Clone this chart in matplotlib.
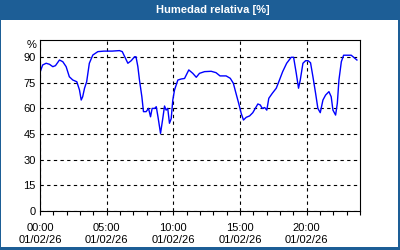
import numpy as np
import matplotlib
matplotlib.use("Agg")
import matplotlib.pyplot as plt
from matplotlib.patches import Rectangle

# hora del día (h) y humedad relativa (%)
horas = [0.0, 0.2, 0.46, 0.71, 0.96, 1.16, 1.46, 1.71, 1.96, 2.2, 2.46, 2.76, 2.96,
         3.09, 3.2, 3.34, 3.5, 3.7, 3.96, 4.34, 4.8, 5.4, 5.96, 6.17, 6.41, 6.59,
         6.84, 7.09, 7.2, 7.34, 7.46, 7.64, 7.76, 7.96, 8.14, 8.29, 8.41, 8.6, 8.72,
         8.85, 9.04, 9.21, 9.34, 9.46, 9.58, 9.71, 9.84, 9.96, 10.09, 10.34, 10.59,
         10.84, 11.16, 11.46, 11.72, 11.96, 12.34, 12.84, 13.2, 13.5, 13.96, 14.27,
         14.5, 14.7, 14.9, 15.09, 15.26, 15.47, 15.72, 15.96, 16.34, 16.52, 16.67,
         16.85, 17.01, 17.16, 17.42, 17.72, 17.96, 18.2, 18.5, 18.84, 19.02, 19.22,
         19.39, 19.52, 19.72, 19.92, 20.1, 20.29, 20.47, 20.67, 20.84, 21.02, 21.22,
         21.42, 21.67, 21.84, 21.97, 22.17, 22.3, 22.42, 22.6, 22.77, 23.34, 23.77]
humedad = [81.1, 85.4, 86.4, 85.8, 84.4, 85.0, 88.3, 87.3, 84.4, 78.5, 76.6, 75.6, 70.8,
           64.9, 66.8, 71.8, 75.6, 86.4, 91.2, 93.2, 93.5, 93.5, 93.8, 93.2, 89.3, 86.4,
           87.9, 90.2, 90.2, 84.4, 76.6, 66.8, 58.1, 58.1, 60.0, 55.1, 60.0, 60.0, 61.0,
           55.0, 45.4, 54.2, 61.4, 59.0, 60.0, 51.3, 54.0, 64.9, 70.8, 76.6, 77.2,
           77.5, 82.5, 80.5, 78.2, 80.5, 81.5, 81.7, 80.9, 79.0, 79.0, 77.6,
           74.7, 68.8, 63.0, 57.1, 53.2, 54.8, 55.6, 57.5, 62.6, 62.0, 60.0,
           60.5, 59.0, 65.9, 68.8, 71.8, 76.6, 81.5, 86.4, 89.9, 89.9, 80.5,
           71.8, 76.6, 86.4, 87.9, 87.9, 86.7, 78.5, 68.8, 60.0, 57.5, 64.9,
           67.8, 69.8, 66.8, 59.0, 56.1, 63.0, 76.6, 87.3, 91.1, 91.1, 88.3]

xticks = [0, 5, 10, 15, 20]
xlabels = ["00:00\n01/02/26", "05:00\n01/02/26", "10:00\n01/02/26",
           "15:00\n01/02/26", "20:00\n01/02/26"]
yticks = [0, 15, 30, 45, 60, 75, 90]

plt.rcParams['font.family'] = ['Liberation Sans', 'DejaVu Sans']

azul = '#1d5e96'
fig = plt.figure(figsize=(4, 2.5), dpi=100, facecolor=azul)
fig.patches.append(Rectangle((1/400, 3/250), 397/400, 227/250, transform=fig.transFigure,
                             facecolor='white', edgecolor='none', zorder=-5))
fig.text(213/400, 1 - 10/250, "Humedad relativa [%]", color='white', fontsize=8,
         fontweight='bold', ha='center', va='center')

ax = fig.add_axes([40/400, 39/250, 320/400, 171/250])
ax.patch.set_alpha(0)
ax.plot(horas, humedad, color='#0000ff', lw=1.0)
ax.set_xlim(0, 24)
ax.set_ylim(0, 100)
ax.set_xticks(xticks)
ax.set_xticklabels(xlabels, fontsize=8, linespacing=1.3)
ax.set_xticks(np.arange(0, 25, 1), minor=True)
ax.set_yticks(yticks)
ax.set_yticklabels([str(v) for v in yticks], fontsize=8)
ax.tick_params(axis='x', which='both', direction='out', length=3, width=0.8, pad=5.5)
ax.tick_params(axis='y', length=0, pad=3)
ax.grid(True, which='major', color='black', linestyle=(0, (3, 3)), linewidth=0.8)
for s in ax.spines.values():
    s.set_linewidth(0.8)
ax.text(-0.012, 97, "%", transform=ax.get_yaxis_transform(), ha='right', va='center', fontsize=8)

fig.savefig("out.png", dpi=100, facecolor=azul)
